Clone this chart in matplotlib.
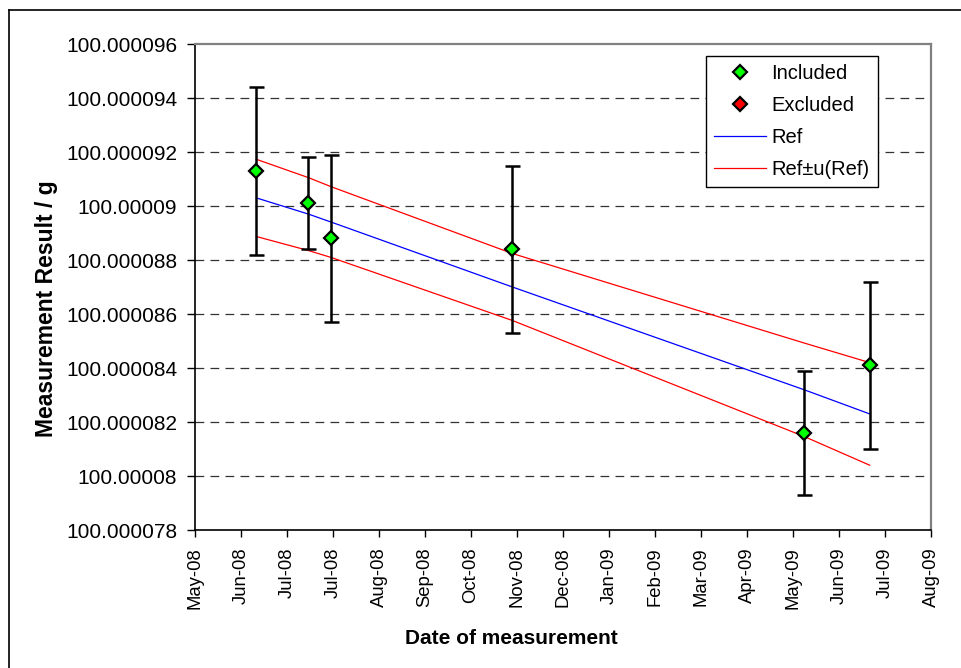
import datetime as dt

import matplotlib
matplotlib.use("Agg")
import matplotlib.pyplot as plt
import matplotlib.dates as mdates
from matplotlib.lines import Line2D
from matplotlib.ticker import FuncFormatter, FixedLocator

plt.rcParams['font.family'] = ['Liberation Sans', 'DejaVu Sans']

# measurements (g) with expanded uncertainty, and the fitted reference line
dates = [dt.date(2008, 6, 11), dt.date(2008, 7, 15), dt.date(2008, 7, 30),
         dt.date(2008, 11, 25), dt.date(2009, 6, 3), dt.date(2009, 7, 16)]
included = [100.0000913, 100.0000901, 100.0000888, 100.0000884, 100.0000816, 100.0000841]
unc = [0.0000031, 0.0000017, 0.0000031, 0.0000031, 0.0000023, 0.0000031]
excluded_dates = []
excluded = []
ref = [100.0000903, 100.0000897, 100.0000894, 100.0000870, 100.0000832, 100.0000823]
u_ref = [0.00000143, 0.00000135, 0.00000131, 0.00000124, 0.00000173, 0.00000190]

y_ticks = [100.000078, 100.00008, 100.000082, 100.000084, 100.000086,
           100.000088, 100.00009, 100.000092, 100.000094, 100.000096]
x_start = dt.date(2008, 5, 2)
x_step_days = 30
n_steps = 16

upper = [r + u for r, u in zip(ref, u_ref)]
lower = [r - u for r, u in zip(ref, u_ref)]

fig = plt.figure(figsize=(9.62, 6.68), dpi=100)
ax = fig.add_axes([195 / 962, 1 - 530 / 668, 736 / 962, 486 / 668])

# dashed horizontal gridlines (inner ticks only)
ax.hlines(y_ticks[1:-1], 0, 1, transform=ax.get_yaxis_transform(),
          colors='#333333', linestyles=(0, (7, 5)), linewidth=0.9, zorder=1)

ax.plot(dates, ref, color='#0000FF', linewidth=0.9, zorder=2)
ax.plot(dates, upper, color='#FF0000', linewidth=0.9, zorder=2)
ax.plot(dates, lower, color='#FF0000', linewidth=0.9, zorder=2)

ax.errorbar(dates, included, yerr=unc, fmt='none', ecolor='black',
            elinewidth=1.8, capsize=5.4, capthick=1.8, zorder=3)
ax.plot(dates, included, linestyle='none', marker='D', markersize=6.8,
        markerfacecolor='#00FF00', markeredgecolor='black', markeredgewidth=1.6, zorder=4)
if excluded:
    ax.plot(excluded_dates, excluded, linestyle='none', marker='D', markersize=6.8,
            markerfacecolor='#FF0000', markeredgecolor='black', markeredgewidth=1.6, zorder=4)

# x axis: Excel style 30-day major unit
x_ticks = [x_start + dt.timedelta(days=x_step_days * i) for i in range(n_steps + 1)]
ax.set_xlim(x_ticks[0], x_ticks[-1])
ax.xaxis.set_major_locator(FixedLocator(mdates.date2num(x_ticks)))
ax.xaxis.set_major_formatter(mdates.DateFormatter('%b-%y'))
plt.setp(ax.get_xticklabels(), rotation=90, fontsize=13.3)

ax.set_ylim(y_ticks[0], y_ticks[-1])
ax.yaxis.set_major_locator(FixedLocator(y_ticks))
ax.yaxis.set_major_formatter(FuncFormatter(lambda v, p: f"{v:.6f}".rstrip('0')))
plt.setp(ax.get_yticklabels(), fontsize=15)

ax.tick_params(axis='y', direction='out', length=6, width=1, pad=6.8)
ax.tick_params(axis='x', direction='out', length=5, width=1, pad=7.5)

for side in ('left', 'bottom'):
    ax.spines[side].set_color('black')
    ax.spines[side].set_linewidth(1.2)
for side in ('top', 'right'):
    ax.spines[side].set_color('#808080')
    ax.spines[side].set_linewidth(1.6)

fig.text(511 / 962, 1 - 638 / 668, 'Date of measurement', fontsize=15,
         fontweight='bold', ha='center', va='center')
fig.text(47 / 962, 1 - 309 / 668, 'Measurement Result / g', fontsize=16.5,
         fontweight='bold', ha='center', va='center', rotation=90)

handles = [
    Line2D([], [], linestyle='none', marker='D', markersize=6.8, markerfacecolor='#00FF00',
           markeredgecolor='black', markeredgewidth=1.6),
    Line2D([], [], linestyle='none', marker='D', markersize=6.8, markerfacecolor='#FF0000',
           markeredgecolor='black', markeredgewidth=1.6),
    Line2D([], [], color='#0000FF', linewidth=0.9),
    Line2D([], [], color='#FF0000', linewidth=0.9),
]
leg = ax.legend(handles, ['Included', 'Excluded', 'Ref', 'Ref±u(Ref)'],
                loc='upper left', bbox_to_anchor=(706 / 962, 1 - 56 / 668),
                bbox_transform=fig.transFigure, borderaxespad=0, fontsize=14.5,
                frameon=True, fancybox=False, edgecolor='black', framealpha=1,
                handlelength=2.6, handletextpad=0.25, borderpad=0.4,
                labelspacing=0.65)
leg.get_frame().set_linewidth(1.0)

# chart area border
fig.add_artist(Line2D([9 / 962, 9 / 962], [0, 1 - 10 / 668], transform=fig.transFigure,
                      color='black', linewidth=1.2))
fig.add_artist(Line2D([9 / 962, 1], [1 - 10 / 668, 1 - 10 / 668], transform=fig.transFigure,
                      color='black', linewidth=1.2))

fig.savefig('out.png', dpi=100)
